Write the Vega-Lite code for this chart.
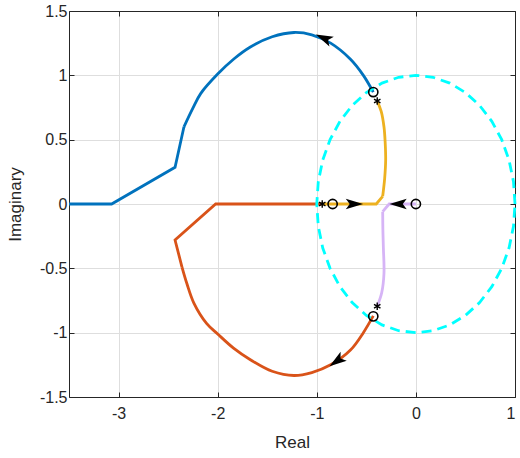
{
  "$schema": "https://vega.github.io/schema/vega-lite/v6.json",
  "width": 446,
  "height": 386,
  "autosize": {"type": "none"},
  "padding": {"left": 69, "top": 11, "right": 5, "bottom": 61},
  "background": "white",
  "config": {
    "view": {"stroke": null},
    "axis": {
      "labelFont": "Liberation Sans",
      "titleFont": "Liberation Sans",
      "labelFontSize": 16,
      "titleFontSize": 17,
      "labelColor": "#262626",
      "titleColor": "#262626",
      "titleFontWeight": "normal",
      "domainColor": "#262626",
      "tickColor": "#262626",
      "gridColor": "#DEDEDE",
      "gridOpacity": 1,
      "domainWidth": 1,
      "tickWidth": 1
    }
  },
  "datasets": {
    "loci": [
      {"branch": "1", "part": "s", "k": 0, "re": -3.5, "im": 0},
      {"branch": "1", "part": "s", "k": 1, "re": -3.07, "im": 0},
      {"branch": "1", "part": "s", "k": 2, "re": -2.43, "im": 0.285},
      {"branch": "1", "part": "s", "k": 3, "re": -2.34, "im": 0.6},
      {"branch": "1", "part": "c", "k": 3, "re": -2.34, "im": 0.6},
      {"branch": "1", "part": "c", "k": 4, "re": -2.25, "im": 0.745},
      {"branch": "1", "part": "c", "k": 5, "re": -2.17, "im": 0.86},
      {"branch": "1", "part": "c", "k": 6, "re": -2.0, "im": 1.01},
      {"branch": "1", "part": "c", "k": 7, "re": -1.84, "im": 1.125},
      {"branch": "1", "part": "c", "k": 8, "re": -1.67, "im": 1.22},
      {"branch": "1", "part": "c", "k": 9, "re": -1.45, "im": 1.3},
      {"branch": "1", "part": "c", "k": 10, "re": -1.23, "im": 1.333},
      {"branch": "1", "part": "c", "k": 11, "re": -1.05, "im": 1.315},
      {"branch": "1", "part": "c", "k": 12, "re": -0.86, "im": 1.25},
      {"branch": "1", "part": "c", "k": 13, "re": -0.66, "im": 1.125},
      {"branch": "1", "part": "c", "k": 14, "re": -0.53, "im": 1.0},
      {"branch": "1", "part": "c", "k": 15, "re": -0.43, "im": 0.87},
      {"branch": "2", "part": "s", "k": 0, "re": -0.95, "im": 0},
      {"branch": "2", "part": "s", "k": 1, "re": -2.02, "im": 0},
      {"branch": "2", "part": "s", "k": 2, "re": -2.43, "im": -0.28},
      {"branch": "2", "part": "s", "k": 3, "re": -2.36, "im": -0.49},
      {"branch": "2", "part": "c", "k": 3, "re": -2.36, "im": -0.49},
      {"branch": "2", "part": "c", "k": 4, "re": -2.31, "im": -0.62},
      {"branch": "2", "part": "c", "k": 5, "re": -2.24, "im": -0.77},
      {"branch": "2", "part": "c", "k": 6, "re": -2.11, "im": -0.93},
      {"branch": "2", "part": "c", "k": 7, "re": -2.0, "im": -1.01},
      {"branch": "2", "part": "c", "k": 8, "re": -1.84, "im": -1.12},
      {"branch": "2", "part": "c", "k": 9, "re": -1.67, "im": -1.21},
      {"branch": "2", "part": "c", "k": 10, "re": -1.45, "im": -1.3},
      {"branch": "2", "part": "c", "k": 11, "re": -1.23, "im": -1.333},
      {"branch": "2", "part": "c", "k": 12, "re": -1.05, "im": -1.31},
      {"branch": "2", "part": "c", "k": 13, "re": -0.86, "im": -1.25},
      {"branch": "2", "part": "c", "k": 14, "re": -0.66, "im": -1.135},
      {"branch": "2", "part": "c", "k": 15, "re": -0.53, "im": -1.0},
      {"branch": "2", "part": "c", "k": 16, "re": -0.43, "im": -0.87},
      {"branch": "3", "part": "s", "k": 0, "re": -0.95, "im": 0},
      {"branch": "3", "part": "s", "k": 1, "re": -0.4, "im": 0},
      {"branch": "3", "part": "s", "k": 2, "re": -0.335, "im": 0.06},
      {"branch": "3", "part": "c", "k": 2, "re": -0.335, "im": 0.06},
      {"branch": "3", "part": "c", "k": 3, "re": -0.315, "im": 0.2},
      {"branch": "3", "part": "c", "k": 4, "re": -0.305, "im": 0.34},
      {"branch": "3", "part": "c", "k": 5, "re": -0.31, "im": 0.48},
      {"branch": "3", "part": "c", "k": 6, "re": -0.322, "im": 0.6},
      {"branch": "3", "part": "c", "k": 7, "re": -0.35, "im": 0.72},
      {"branch": "3", "part": "c", "k": 8, "re": -0.39, "im": 0.8},
      {"branch": "4", "part": "s", "k": 0, "re": 0, "im": 0},
      {"branch": "4", "part": "s", "k": 1, "re": -0.27, "im": 0},
      {"branch": "4", "part": "s", "k": 2, "re": -0.335, "im": -0.06},
      {"branch": "4", "part": "c", "k": 2, "re": -0.335, "im": -0.06},
      {"branch": "4", "part": "c", "k": 3, "re": -0.333, "im": -0.2},
      {"branch": "4", "part": "c", "k": 4, "re": -0.328, "im": -0.34},
      {"branch": "4", "part": "c", "k": 5, "re": -0.322, "im": -0.54},
      {"branch": "4", "part": "c", "k": 6, "re": -0.345, "im": -0.69},
      {"branch": "4", "part": "c", "k": 7, "re": -0.39, "im": -0.795}
    ],
    "unit": [
      {"deg": 0, "re": 1, "im": 0},
      {"deg": 10, "re": 0.9848, "im": 0.1736},
      {"deg": 20, "re": 0.9397, "im": 0.342},
      {"deg": 30, "re": 0.866, "im": 0.5},
      {"deg": 40, "re": 0.766, "im": 0.6428},
      {"deg": 50, "re": 0.6428, "im": 0.766},
      {"deg": 60, "re": 0.5, "im": 0.866},
      {"deg": 70, "re": 0.342, "im": 0.9397},
      {"deg": 80, "re": 0.1736, "im": 0.9848},
      {"deg": 90, "re": 0, "im": 1},
      {"deg": 100, "re": -0.1736, "im": 0.9848},
      {"deg": 110, "re": -0.342, "im": 0.9397},
      {"deg": 120, "re": -0.5, "im": 0.866},
      {"deg": 130, "re": -0.6428, "im": 0.766},
      {"deg": 140, "re": -0.766, "im": 0.6428},
      {"deg": 150, "re": -0.866, "im": 0.5},
      {"deg": 160, "re": -0.9397, "im": 0.342},
      {"deg": 170, "re": -0.9848, "im": 0.1736},
      {"deg": 180, "re": -1, "im": 0},
      {"deg": 190, "re": -0.9848, "im": -0.1736},
      {"deg": 200, "re": -0.9397, "im": -0.342},
      {"deg": 210, "re": -0.866, "im": -0.5},
      {"deg": 220, "re": -0.766, "im": -0.6428},
      {"deg": 230, "re": -0.6428, "im": -0.766},
      {"deg": 240, "re": -0.5, "im": -0.866},
      {"deg": 250, "re": -0.342, "im": -0.9397},
      {"deg": 260, "re": -0.1736, "im": -0.9848},
      {"deg": 270, "re": 0, "im": -1},
      {"deg": 280, "re": 0.1736, "im": -0.9848},
      {"deg": 290, "re": 0.342, "im": -0.9397},
      {"deg": 300, "re": 0.5, "im": -0.866},
      {"deg": 310, "re": 0.6428, "im": -0.766},
      {"deg": 320, "re": 0.766, "im": -0.6428},
      {"deg": 330, "re": 0.866, "im": -0.5},
      {"deg": 340, "re": 0.9397, "im": -0.342},
      {"deg": 350, "re": 0.9848, "im": -0.1736},
      {"deg": 360, "re": 1, "im": 0}
    ],
    "zeros": [
      {"re": -0.43, "im": 0.87},
      {"re": -0.84, "im": 0},
      {"re": 0, "im": 0},
      {"re": -0.43, "im": -0.873}
    ],
    "poles": [
      {"re": -0.39, "im": 0.8},
      {"re": -0.945, "im": 0},
      {"re": -0.39, "im": -0.795}
    ],
    "arrows": [
      {"re": -0.93, "im": 1.29, "heading": 204},
      {"re": -0.62, "im": 0, "heading": 0},
      {"re": -0.18, "im": 0, "heading": 180},
      {"re": -0.8, "im": -1.222, "heading": 145}
    ]
  },
  "layer": [
    {
      "data": {"name": "loci"},
      "transform": [{"filter": "datum.part == 's'"}],
      "mark": {"type": "line", "strokeWidth": 2.8, "clip": true},
      "encoding": {
        "x": {
          "field": "re", "type": "quantitative",
          "scale": {"domain": [-3.5, 1], "nice": false, "zero": false},
          "axis": {
            "values": [-3, -2, -1, 0, 1],
            "labelExpr": "datum.value + ''",
            "title": "Real",
            "grid": true,
            "tickSize": -5,
            "labelPadding": 13,
            "titleY": 45,
            "titleBaseline": "middle"
          }
        },
        "y": {
          "field": "im", "type": "quantitative",
          "scale": {"domain": [-1.5, 1.5], "nice": false, "zero": false},
          "axis": {
            "values": [-1.5, -1, -0.5, 0, 0.5, 1, 1.5],
            "labelExpr": "datum.value + ''",
            "title": "Imaginary",
            "grid": true,
            "tickSize": -5,
            "labelPadding": 7,
            "titleX": -54,
            "titleY": 193,
            "titleBaseline": "middle",
            "titleAngle": -90
          }
        },
        "order": {"field": "k", "type": "quantitative"},
        "detail": {"field": "branch"},
        "color": {
          "field": "branch", "type": "nominal", "legend": null,
          "scale": {"domain": ["1", "2", "3", "4"], "range": ["#0072BD", "#D95319", "#EDB120", "#D6B4F6"]}
        }
      }
    },
    {
      "data": {"name": "loci"},
      "transform": [{"filter": "datum.part == 'c'"}],
      "mark": {"type": "line", "strokeWidth": 2.8, "interpolate": "catmull-rom", "clip": true},
      "encoding": {
        "x": {"field": "re", "type": "quantitative", "axis": null},
        "y": {"field": "im", "type": "quantitative", "axis": null},
        "order": {"field": "k", "type": "quantitative"},
        "detail": {"field": "branch"},
        "color": {"field": "branch", "type": "nominal", "legend": null}
      }
    },
    {
      "data": {"name": "unit"},
      "mark": {"type": "line", "color": "#00FFFF", "strokeWidth": 2.8, "strokeDash": [10, 6]},
      "encoding": {
        "x": {
          "field": "re", "type": "quantitative",
          "axis": {
            "orient": "top", "values": [-3, -2, -1, 0, 1], "labels": false,
            "title": null, "grid": false, "tickSize": -5
          }
        },
        "y": {
          "field": "im", "type": "quantitative",
          "axis": {
            "orient": "right", "values": [-1.5, -1, -0.5, 0, 0.5, 1, 1.5], "labels": false,
            "title": null, "grid": false, "tickSize": -5
          }
        },
        "order": {"field": "deg", "type": "quantitative"}
      }
    },
    {
      "data": {"name": "zeros"},
      "mark": {"type": "point", "shape": "circle", "size": 85, "filled": false, "stroke": "black", "strokeWidth": 1.6, "opacity": 1},
      "encoding": {
        "x": {"field": "re", "type": "quantitative", "axis": null},
        "y": {"field": "im", "type": "quantitative", "axis": null}
      }
    },
    {
      "data": {"name": "poles"},
      "mark": {"type": "point", "shape": "M0,-1L0,1M-0.87,-0.5L0.87,0.5M-0.87,0.5L0.87,-0.5", "size": 55, "filled": false, "stroke": "black", "strokeWidth": 1.4, "opacity": 1},
      "encoding": {
        "x": {"field": "re", "type": "quantitative", "axis": null},
        "y": {"field": "im", "type": "quantitative", "axis": null}
      }
    },
    {
      "data": {"name": "arrows"},
      "mark": {"type": "point", "shape": "M1,0L-1,-0.62L-0.55,0L-1,0.62Z", "size": 300, "filled": true, "color": "black", "opacity": 1},
      "encoding": {
        "x": {"field": "re", "type": "quantitative", "axis": null},
        "y": {"field": "im", "type": "quantitative", "axis": null},
        "angle": {"field": "heading", "type": "quantitative", "scale": null}
      }
    }
  ],
  "resolve": {"axis": {"x": "independent", "y": "independent"}}
}
